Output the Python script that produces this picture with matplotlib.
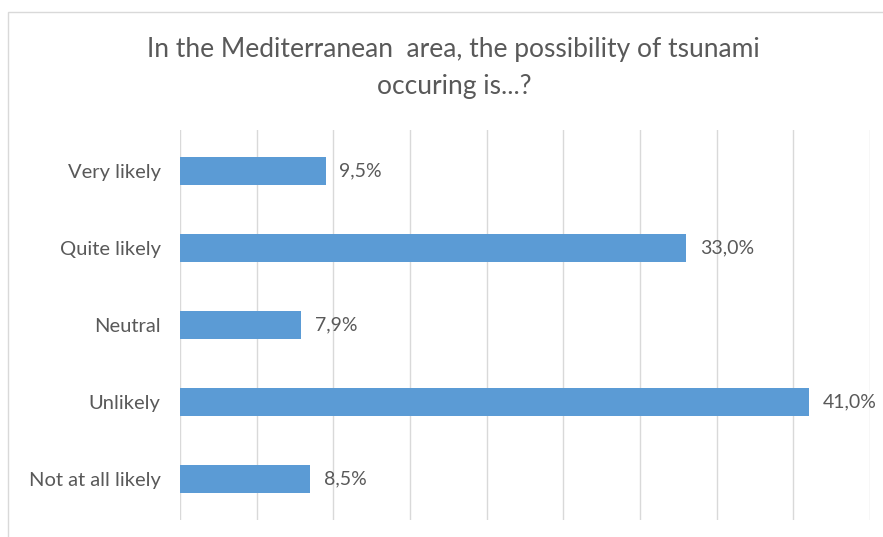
import matplotlib.pyplot as plt
from matplotlib.patches import Rectangle

categories = ['Very likely', 'Quite likely', 'Neutral', 'Unlikely', 'Not at all likely']
shares = [9.5, 33.0, 7.9, 41.0, 8.5]
labels = ['9,5%', '33,0%', '7,9%', '41,0%', '8,5%']

plt.rcParams['font.family'] = ['Lato', 'DejaVu Sans']
text_col = '#595959'

fig = plt.figure(figsize=(8.83, 5.37), dpi=100)
fig.patches.append(Rectangle((8 / 883, -0.1), 1.2, 1 - 12 / 537 + 0.1,
                             transform=fig.transFigure, fill=False,
                             edgecolor='#D9D9D9', linewidth=1))

ax = fig.add_axes([180 / 883, 1 - 520 / 537, 690 / 883, 390 / 537])
y = range(len(categories))
ax.barh(y, shares, height=0.36, color='#5B9BD5', zorder=3)
for yi, v, lab in zip(y, shares, labels):
    ax.text(v + 0.9, yi, lab, va='center', ha='left', fontsize=14, color=text_col)

ax.set_xlim(0, 45)
ax.set_ylim(4.53, -0.53)
ax.set_xticks(range(0, 46, 5))
ax.set_xticklabels([])
ax.tick_params(axis='x', length=0)
ax.grid(axis='x', color='#D9D9D9', linewidth=1, zorder=0)
ax.set_yticks(list(y))
ax.set_yticklabels(categories, fontsize=14.5, color=text_col)
ax.tick_params(axis='y', length=0, pad=14)
for s in ax.spines.values():
    s.set_visible(False)

fig.text(0.514, 1 - 57 / 537, 'In the Mediterranean  area, the possibility of tsunami',
         ha='center', va='baseline', fontsize=19, color=text_col)
fig.text(0.514, 1 - 94 / 537, 'occuring is...?',
         ha='center', va='baseline', fontsize=19, color=text_col)

fig.savefig('out.png', dpi=100)
